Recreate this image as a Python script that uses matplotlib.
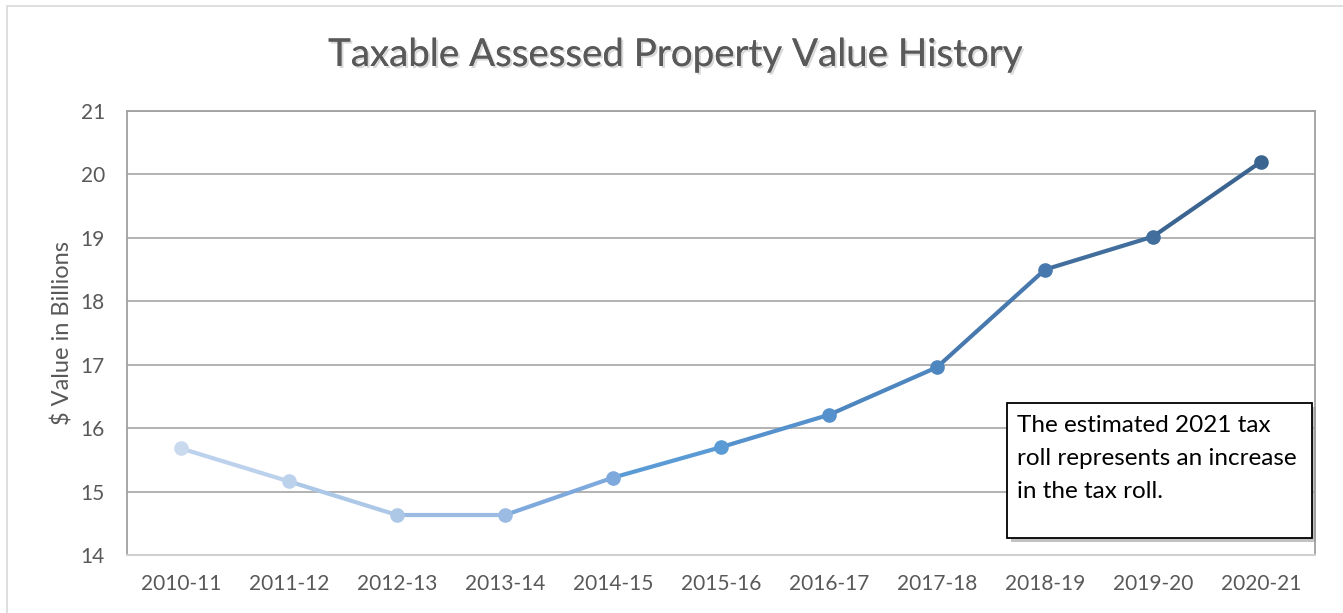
import matplotlib
matplotlib.use("Agg")
import matplotlib.pyplot as plt
import matplotlib.patheffects as pe
from matplotlib.patches import Rectangle

years = ["2010-11", "2011-12", "2012-13", "2013-14", "2014-15", "2015-16",
         "2016-17", "2017-18", "2018-19", "2019-20", "2020-21"]
values = [15.68, 15.16, 14.63, 14.63, 15.22, 15.70, 16.21, 16.96, 18.50, 19.02, 20.20]
point_colors = ["#c9d9ee", "#bcd1ec", "#adc8e7", "#9bbbe2", "#7ea9dc", "#5b9bd5",
                "#5591cc", "#4e86bf", "#4779ae", "#426e9d", "#3b6590"]
yticks = [14, 15, 16, 17, 18, 19, 20, 21]
title = "Taxable Assessed Property Value History"
ylabel = "$ Value in Billions"
note = "The estimated 2021 tax\nroll represents an increase\nin the tax roll."

plt.rcParams['font.family'] = ['Lato', 'DejaVu Sans']

W, H = 1343, 613
fig = plt.figure(figsize=(W / 100, H / 100), dpi=100)
fig.patch.set_facecolor("white")

# outer chart border
fig.add_artist(Rectangle((7 / W, -0.02), 1.1, (H - 6) / H + 0.02, transform=fig.transFigure,
                         fill=False, edgecolor="#d9d9d9", linewidth=1.2))

ax = fig.add_axes([127 / W, 58 / H, (1315 - 127) / W, (555 - 111) / H])
x = list(range(len(years)))
for i in range(1, len(x)):
    ax.plot(x[i - 1:i + 1], values[i - 1:i + 1], color=point_colors[i], linewidth=3,
            solid_capstyle="round", zorder=3)
for i in x:
    ax.plot(x[i], values[i], marker="o", markersize=9.5, color=point_colors[i],
            markeredgecolor=point_colors[i], zorder=4, linestyle="none")

ax.set_xlim(-0.5, len(years) - 0.5)
ax.set_ylim(14, 21)
ax.set_yticks(yticks)
ax.set_xticks(x)
ax.set_xticklabels(years)
ax.yaxis.grid(True, color="#a6a6a6", linewidth=1.2)
ax.set_axisbelow(True)
ax.tick_params(axis="both", length=0, labelsize=15, labelcolor="#595959")
ax.tick_params(axis="y", pad=16)
ax.tick_params(axis="x", pad=14)
for s in ["top", "right", "left"]:
    ax.spines[s].set_color("#a0a0a0")
    ax.spines[s].set_linewidth(1.3)
ax.spines["bottom"].set_color("#d0d0d0")
ax.spines["bottom"].set_linewidth(1.5)

ax.set_ylabel(ylabel, fontsize=17, color="#595959", labelpad=5)

fig.text(676 / W, 1 - 55 / H, title, ha="center", va="center",
         fontsize=27.7, color="#595959",
         path_effects=[pe.withSimplePatchShadow(offset=(1.5, -1.5), shadow_rgbFace="#000000", alpha=0.15),
                       pe.Normal()])

# annotation box with shadow
bx0, by0, bx1, by1 = 1007, 403, 1312, 538
fig.add_artist(Rectangle(((bx0 + 4) / W, 1 - (by1 + 4) / H), (bx1 - bx0) / W, (by1 - by0) / H,
                         transform=fig.transFigure, facecolor="#9a9a9a", edgecolor="none",
                         alpha=0.6, zorder=5))
fig.add_artist(Rectangle((bx0 / W, 1 - by1 / H), (bx1 - bx0) / W, (by1 - by0) / H,
                         transform=fig.transFigure, facecolor="white", edgecolor="black",
                         linewidth=1.3, zorder=6))
fig.text((bx0 + 10) / W, 1 - (by0 + 12) / H, note, ha="left", va="top", fontsize=17.5,
         color="black", linespacing=1.72, zorder=7)

fig.savefig("out.png", dpi=100)
